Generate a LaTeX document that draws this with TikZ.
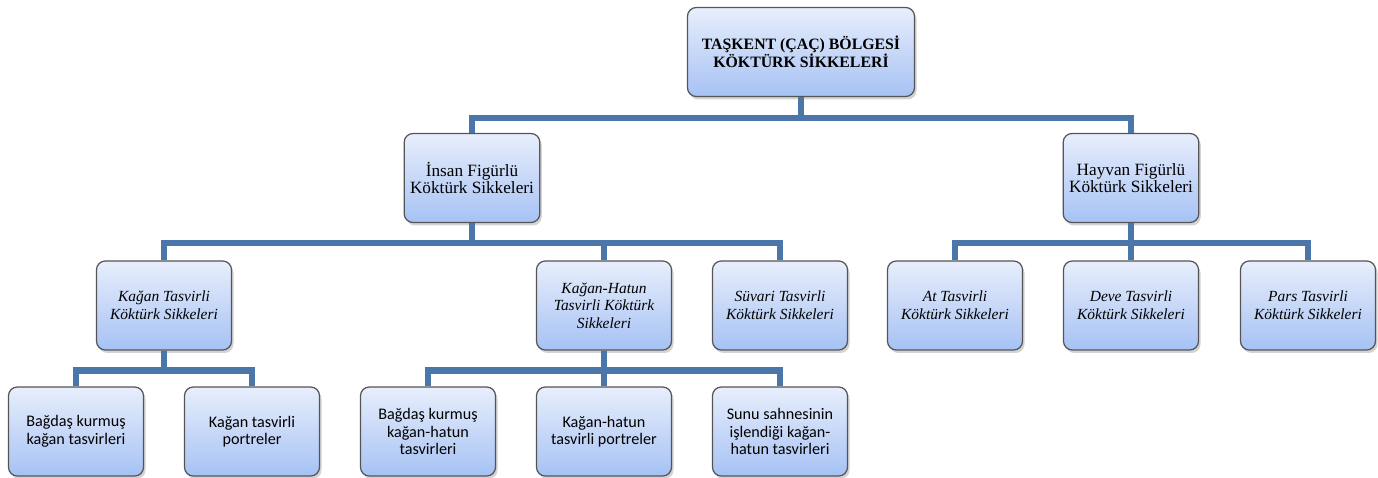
\documentclass[tikz,border=0pt]{standalone}
\usepackage{fontspec}
\setmainfont{Liberation Serif}
\newfontfamily\leaffont{Carlito}
\usetikzlibrary{shadows}
\definecolor{linkblue}{RGB}{74,118,170}
\definecolor{boxtop}{RGB}{232,238,252}
\definecolor{boxbottom}{RGB}{166,194,244}
\definecolor{boxedge}{RGB}{85,85,85}
\begin{document}
\begin{tikzpicture}[
    coin/.style={rectangle, draw=boxedge, line width=0.7pt, top color=boxtop, bottom color=boxbottom, rounded corners=5pt, align=center, minimum width=2.7cm, minimum height=1.78cm, font=\fontsize{9.8}{10}\selectfont, drop shadow={shadow xshift=0.04cm, shadow yshift=-0.06cm, opacity=0.35}},
    rootbox/.style={coin, minimum width=4.54cm, font=\fontsize{9}{10.5}\selectfont\bfseries},
    typebox/.style={coin, font=\fontsize{8.8}{10}\selectfont\itshape},
    leafbox/.style={coin, font=\fontsize{9.2}{10}\leaffont},
    link/.style={draw=linkblue, line width=3.6pt}
]
\useasboundingbox (0,0) rectangle (27.56,-9.56);

% Top level
\node[rootbox] (root) at (16.02,-1.04) {TAŞKENT (ÇAÇ) BÖLGESİ\\KÖKTÜRK SİKKELERİ};

% Second level
\node[coin] (insan) at (9.44,-3.56) {İnsan Figürlü\\Köktürk Sikkeleri};
\node[coin] (hayvan) at (22.62,-3.56) {Hayvan Figürlü\\Köktürk Sikkeleri};

% Third level
\node[typebox] (kagan) at (3.28,-6.11) {Kağan Tasvirli\\Köktürk Sikkeleri};
\node[typebox] (hatun) at (12.08,-6.11) {Kağan-Hatun\\Tasvirli Köktürk\\Sikkeleri};
\node[typebox] (suvari) at (15.6,-6.11) {Süvari Tasvirli\\Köktürk Sikkeleri};
\node[typebox] (at) at (19.1,-6.11) {At Tasvirli\\Köktürk Sikkeleri};
\node[typebox] (deve) at (22.62,-6.11) {Deve Tasvirli\\Köktürk Sikkeleri};
\node[typebox] (pars) at (26.16,-6.11) {Pars Tasvirli\\Köktürk Sikkeleri};

% Fourth level
\node[leafbox] (bagdas) at (1.52,-8.63) {Bağdaş kurmuş\\kağan tasvirleri};
\node[leafbox] (portre) at (5.04,-8.63) {Kağan tasvirli\\portreler};
\node[leafbox] (bagdashatun) at (8.56,-8.63) {Bağdaş kurmuş\\kağan-hatun\\tasvirleri};
\node[leafbox] (portrehatun) at (12.08,-8.63) {Kağan-hatun\\tasvirli portreler};
\node[leafbox] (sunu) at (15.6,-8.63) {Sunu sahnesinin\\işlendiği kağan-\\hatun tasvirleri};

% Links
\draw[link] (root.south) -- ++(0,-0.42) -| (insan.north);
\draw[link] (root.south) -- ++(0,-0.42) -| (hayvan.north);
\foreach \t in {kagan,hatun,suvari}
  \draw[link] (insan.south) -- ++(0,-0.4) -| (\t.north);
\foreach \t in {at,deve,pars}
  \draw[link] (hayvan.south) -- ++(0,-0.4) -| (\t.north);
\foreach \t in {bagdas,portre}
  \draw[link] (kagan.south) -- ++(0,-0.4) -| (\t.north);
\foreach \t in {bagdashatun,portrehatun,sunu}
  \draw[link] (hatun.south) -- ++(0,-0.4) -| (\t.north);

\end{tikzpicture}
\end{document}
